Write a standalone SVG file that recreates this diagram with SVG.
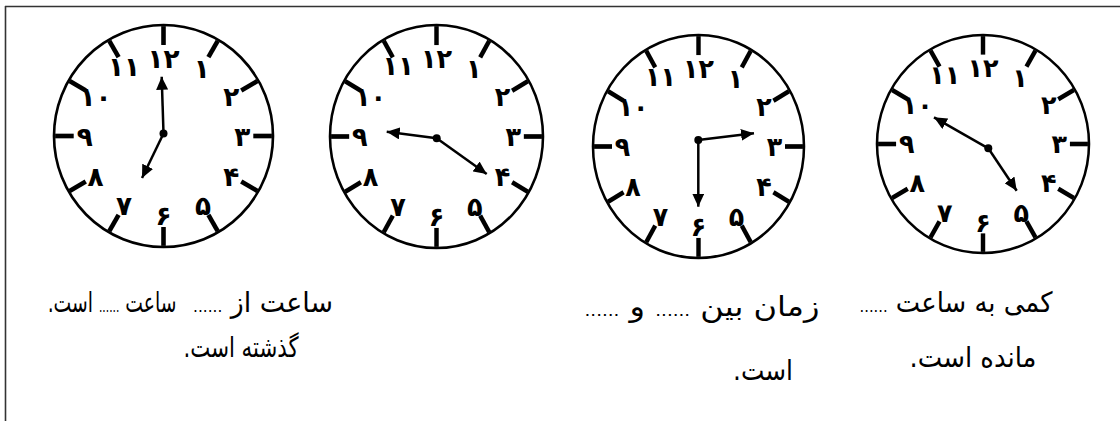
<svg xmlns="http://www.w3.org/2000/svg" xmlns:xlink="http://www.w3.org/1999/xlink" width="1120" height="421" viewBox="0 0 1120 421">
<style>
.rim{fill:#fff;stroke:#000;stroke-width:2.4}
.tick{stroke:#000;stroke-width:4.2;stroke-linecap:butt}
.num{font-family:"DejaVu Sans",sans-serif;font-size:24px;font-weight:bold;fill:#000;text-anchor:middle;dominant-baseline:central}
.hand{stroke:#000;stroke-width:2.5;fill:none}
.lbl{font-family:"DejaVu Sans",sans-serif;font-size:28px;fill:#000;text-anchor:middle;direction:rtl;unicode-bidi:embed}
.dots{font-size:16px}
.frame{stroke:#333;stroke-width:1.6;fill:none}
</style>
<defs>
<marker id="arr" markerUnits="userSpaceOnUse" markerWidth="14" markerHeight="12" refX="13" refY="6" orient="auto">
<path d="M0,0 L13,6 L0,12 z" fill="#000"/>
</marker>
<g id="face">
<circle class="rim" cx="0" cy="0" r="100"/>
<g class="tick">
<line x1="0" y1="-82" x2="0" y2="-99"/>
<line x1="41" y1="-71" x2="49.5" y2="-85.7"/>
<line x1="71" y1="-41" x2="85.7" y2="-49.5"/>
<line x1="82" y1="0" x2="99" y2="0"/>
<line x1="71" y1="41" x2="85.7" y2="49.5"/>
<line x1="41" y1="71" x2="49.5" y2="85.7"/>
<line x1="0" y1="82" x2="0" y2="99"/>
<line x1="-41" y1="71" x2="-49.5" y2="85.7"/>
<line x1="-71" y1="41" x2="-85.7" y2="49.5"/>
<line x1="-82" y1="0" x2="-99" y2="0"/>
<line x1="-71" y1="-41" x2="-85.7" y2="-49.5"/>
<line x1="-41" y1="-71" x2="-49.5" y2="-85.7"/>
</g>
<text class="num" x="0" y="-70">۱۲</text>
<text class="num" x="35" y="-61">۱</text>
<text class="num" x="62" y="-36">۲</text>
<text class="num" x="72" y="0">۳</text>
<text class="num" x="62" y="36">۴</text>
<text class="num" x="36" y="63">۵</text>
<text class="num" x="0" y="72">۶</text>
<text class="num" x="-36" y="63">۷</text>
<text class="num" x="-62" y="36">۸</text>
<text class="num" x="-72" y="0">۹</text>
<text class="num" x="-62" y="-36">۱۰</text>
<text class="num" x="-36" y="-63">۱۱</text>
</g>
</defs>

<g id="frame">
<line class="frame" x1="5" y1="6.5" x2="1120" y2="6.5"/>
<line class="frame" x1="5.5" y1="6" x2="5.5" y2="421"/>
</g>

<g id="clock1">
<use xlink:href="#face" transform="translate(163.5,136) scale(1.095,1.11)"/>
</g>
<g id="clock2">
<use xlink:href="#face" transform="translate(436.5,136.5) scale(1.065,1.115)"/>
</g>
<g id="clock3">
<use xlink:href="#face" transform="translate(698.5,146.5) scale(1.055,1.115)"/>
</g>
<g id="clock4">
<use xlink:href="#face" transform="translate(983,144) scale(1.06,1.09)"/>
</g>

<g id="hands">
<line class="hand" x1="163.5" y1="133.5" x2="161.7" y2="76.7" marker-end="url(#arr)"/>
<line class="hand" x1="163.5" y1="133.5" x2="142" y2="178" marker-end="url(#arr)"/>
<circle cx="163.5" cy="133.5" r="4"/>
<line class="hand" x1="436.7" y1="138.3" x2="386.7" y2="131.7" marker-end="url(#arr)"/>
<line class="hand" x1="436.7" y1="138.3" x2="486.7" y2="174" marker-end="url(#arr)"/>
<circle cx="436.7" cy="138.3" r="4"/>
<line class="hand" x1="698.3" y1="140" x2="754" y2="133.3" marker-end="url(#arr)"/>
<line class="hand" x1="698.3" y1="140" x2="698.3" y2="206.7" marker-end="url(#arr)"/>
<circle cx="698.3" cy="140" r="4"/>
<line class="hand" x1="988.3" y1="148.3" x2="934" y2="117.3" marker-end="url(#arr)"/>
<line class="hand" x1="988.3" y1="148.3" x2="1016.7" y2="190.7" marker-end="url(#arr)"/>
<circle cx="988.3" cy="148.3" r="4"/>
</g>

<g id="labels">
<text class="lbl" transform="translate(112,312) scale(0.67,1)" x="0" y="0">ساعت <tspan class="dots">......</tspan> است.</text>
<text class="lbl" x="263" y="312" textLength="140" lengthAdjust="spacingAndGlyphs">ساعت از <tspan class="dots">......</tspan></text>
<text class="lbl" x="241" y="357" textLength="115" lengthAdjust="spacingAndGlyphs">گذشته است.</text>
<text class="lbl" x="702" y="316" textLength="235" lengthAdjust="spacingAndGlyphs">زمان بین <tspan class="dots">......</tspan> و <tspan class="dots">......</tspan></text>
<text class="lbl" x="763" y="380" textLength="60" lengthAdjust="spacingAndGlyphs">است.</text>
<text class="lbl" x="956" y="312" textLength="193" lengthAdjust="spacingAndGlyphs">کمی به ساعت <tspan class="dots">......</tspan></text>
<text class="lbl" x="973" y="367" textLength="127" lengthAdjust="spacingAndGlyphs">مانده است.</text>
</g>
</svg>
